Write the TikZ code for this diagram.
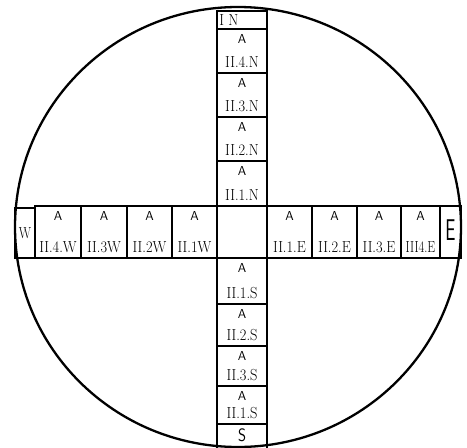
\documentclass[tikz,border=0pt]{standalone}
\begin{document}
\newcommand{\lab}[1]{\scalebox{0.9}[1]{\fontsize{16}{16}\selectfont #1}}
\begin{tikzpicture}[x=1pt,y=-1pt,
  cell/.style={draw, line width=1.9pt, inner sep=0pt},
  txt/.style={inner sep=0pt},
  hat/.style={inner sep=0pt, font=\sffamily\fontsize{13}{13}\selectfont},
  rim/.style={line width=2.3pt}]
\useasboundingbox (0,0) rectangle (467,448);
% outer circle
\draw[rim] (238,227) ellipse [x radius=223, y radius=220];
% vertical column
\node[cell, minimum width=50pt, minimum height=18pt] (in) at (242,20) {};
\node[cell, minimum width=50pt, minimum height=44pt] (n4) at (242,51) {};
\node[cell, minimum width=50pt, minimum height=44pt] (n3) at (242,95) {};
\node[cell, minimum width=50pt, minimum height=44pt] (n2) at (242,139) {};
\node[cell, minimum width=50pt, minimum height=45pt] (n1) at (242,183.5) {};
\node[cell, minimum width=50pt, minimum height=52pt] (c) at (242,232) {};
\node[cell, minimum width=50pt, minimum height=46pt] (s1) at (242,281) {};
\node[cell, minimum width=50pt, minimum height=42pt] (s2) at (242,325) {};
\node[cell, minimum width=50pt, minimum height=40pt] (s3) at (242,366) {};
\node[cell, minimum width=50pt, minimum height=38pt] (s4) at (242,405) {};
\node[inner sep=0pt, minimum width=50pt, minimum height=24pt] (sb) at (242,436) {};
\draw[line width=1.9pt] (sb.north west) -- (sb.south west);
\draw[line width=1.9pt] (sb.north east) -- (sb.south east);
% horizontal row
\node[cell, minimum width=20pt, minimum height=50pt] (w) at (25,233) {};
\node[cell, minimum width=46pt, minimum height=52pt] (w4) at (58,232) {};
\node[cell, minimum width=46pt, minimum height=52pt] (w3) at (104,232) {};
\node[cell, minimum width=45pt, minimum height=52pt] (w2) at (149.5,232) {};
\node[cell, minimum width=45pt, minimum height=52pt] (w1) at (194.5,232) {};
\node[cell, minimum width=45pt, minimum height=52pt] (e1) at (289.5,232) {};
\node[cell, minimum width=45pt, minimum height=52pt] (e2) at (334.5,232) {};
\node[cell, minimum width=44pt, minimum height=52pt] (e3) at (379,232) {};
\node[cell, minimum width=39pt, minimum height=52pt] (e4) at (420.5,232) {};
\node[cell, minimum width=21pt, minimum height=52pt] (e) at (450.5,232) {};
% texts
\node[txt, anchor=west] (tin) at ([xshift=3pt]in.west) {\lab{I N}};
\foreach \b/\t in {n4/II.4.N, n3/II.3.N, n2/II.2.N, n1/II.1.N, s1/II.1.S, s2/II.2.S, s3/II.3.S, s4/II.1.S, w4/II.4.W, w3/II.3W, w2/II.2W, w1/II.1W, e1/II.1.E, e2/II.2.E, e3/II.3.E}{
  \node[hat] (h\b) at ([yshift=-11pt]\b.north) {A};
  \node[txt] (l\b) at ([yshift=12pt]\b.south) {\lab{\t}};
}
\node[hat] (he4) at ([yshift=-11pt]e4.north) {A};
\node[txt] (le4) at ([yshift=12pt]e4.south) {\scalebox{0.78}[1]{\fontsize{16}{16}\selectfont III4.E}};
\node[txt] (tw) at (w.center) {\scalebox{0.8}[1]{\fontsize{16}{16}\selectfont W}};
\node[txt] (te) at ([yshift=2pt]e.center) {\scalebox{0.6}[1]{\sffamily\fontsize{30}{30}\selectfont E}};
\node[txt] (ts) at ([yshift=1pt]sb.center) {\scalebox{0.85}[1]{\sffamily\fontsize{18}{18}\selectfont S}};
\end{tikzpicture}
\end{document}
